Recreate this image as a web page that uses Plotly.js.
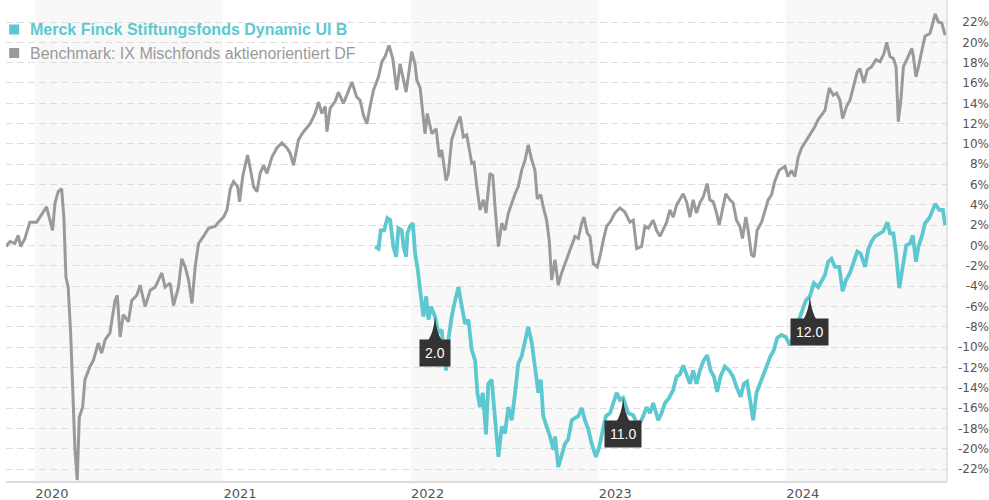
<!DOCTYPE html>
<html>
<head>
<meta charset="utf-8">
<script src="https://cdn.plot.ly/plotly-3.0.1.min.js"></script>
<style>html,body{margin:0;padding:0;background:#fff;}#chart{width:989px;height:500px;}</style>
</head>
<body>
<div id="chart"></div>
<script>
// ---- data (dates as decimal years, values in %) ----
const benchDates = [2019.846,2019.867,2019.893,2019.911,2019.924,2019.947,2019.973,2020.009,2020.027,2020.062,2020.080,2020.094,2020.107,2020.124,2020.142,2020.154,2020.165,2020.177,2020.190,2020.201,2020.213,2020.225,2020.236,2020.254,2020.266,2020.293,2020.311,2020.337,2020.355,2020.373,2020.399,2020.426,2020.438,2020.453,2020.470,2020.497,2020.515,2020.542,2020.559,2020.586,2020.613,2020.639,2020.675,2020.692,2020.719,2020.737,2020.763,2020.781,2020.799,2020.817,2020.835,2020.852,2020.870,2020.896,2020.923,2020.959,2020.976,2021.003,2021.021,2021.039,2021.056,2021.078,2021.088,2021.106,2021.131,2021.145,2021.163,2021.181,2021.198,2021.216,2021.234,2021.261,2021.287,2021.314,2021.341,2021.358,2021.376,2021.402,2021.429,2021.465,2021.491,2021.509,2021.527,2021.545,2021.554,2021.571,2021.598,2021.615,2021.642,2021.660,2021.687,2021.713,2021.731,2021.749,2021.767,2021.784,2021.802,2021.829,2021.847,2021.864,2021.885,2021.905,2021.926,2021.944,2021.962,2021.976,2021.997,2022.006,2022.024,2022.033,2022.051,2022.077,2022.089,2022.113,2022.136,2022.153,2022.166,2022.189,2022.201,2022.219,2022.246,2022.264,2022.281,2022.299,2022.326,2022.338,2022.353,2022.370,2022.388,2022.402,2022.423,2022.438,2022.450,2022.468,2022.486,2022.503,2022.521,2022.539,2022.557,2022.574,2022.592,2022.610,2022.627,2022.646,2022.663,2022.675,2022.694,2022.707,2022.725,2022.739,2022.752,2022.770,2022.787,2022.805,2022.823,2022.840,2022.859,2022.876,2022.894,2022.912,2022.924,2022.942,2022.956,2022.974,2022.995,2023.009,2023.027,2023.045,2023.063,2023.089,2023.116,2023.142,2023.169,2023.187,2023.205,2023.231,2023.249,2023.267,2023.293,2023.311,2023.329,2023.346,2023.365,2023.382,2023.400,2023.418,2023.435,2023.453,2023.471,2023.489,2023.506,2023.524,2023.542,2023.560,2023.581,2023.595,2023.613,2023.631,2023.645,2023.663,2023.680,2023.702,2023.719,2023.737,2023.755,2023.769,2023.787,2023.799,2023.817,2023.831,2023.847,2023.871,2023.888,2023.906,2023.924,2023.941,2023.964,2023.995,2024.012,2024.030,2024.048,2024.066,2024.084,2024.101,2024.119,2024.137,2024.154,2024.172,2024.190,2024.208,2024.231,2024.252,2024.270,2024.288,2024.302,2024.323,2024.341,2024.358,2024.380,2024.394,2024.415,2024.433,2024.456,2024.479,2024.501,2024.522,2024.536,2024.554,2024.572,2024.586,2024.598,2024.613,2024.625,2024.643,2024.670,2024.678,2024.692,2024.705,2024.723,2024.740,2024.767,2024.794,2024.811,2024.829,2024.847];
const benchValues = [-0.1,0.4,0.2,1.0,-0.1,0.7,2.3,2.3,2.8,3.8,2.5,1.5,4.2,5.3,5.6,2.8,-3.1,-4.1,-8.6,-15.2,-20.1,-23.1,-16.9,-15.9,-13.2,-11.9,-11.3,-9.6,-10.6,-9.3,-8.6,-5.4,-4.9,-9.0,-6.8,-7.5,-5.4,-4.9,-3.9,-6.0,-4.4,-4.1,-2.7,-4.1,-3.7,-5.9,-4.1,-1.3,-2.1,-3.4,-5.7,-2.1,0.2,0.9,1.7,1.9,2.3,2.8,3.5,5.6,6.3,5.8,4.3,6.9,8.9,7.6,5.8,5.3,7.1,7.9,7.1,8.7,9.6,10.1,9.6,9.1,7.9,10.4,11.2,12.0,13.0,14.1,13.0,13.7,11.2,13.5,14.2,15.1,14.0,14.8,16.1,14.6,14.3,12.8,12.0,13.7,15.3,16.6,18.1,18.6,19.7,18.4,15.3,17.9,16.3,15.1,17.9,19.1,17.8,16.3,15.5,11.0,13.0,11.0,11.5,8.7,9.4,6.4,7.1,10.4,11.9,12.7,10.7,10.9,8.1,8.2,5.8,3.5,4.5,3.2,7.1,6.9,3.8,-0.1,2.2,1.5,3.2,4.2,5.1,5.8,7.4,8.4,9.9,8.4,7.4,4.6,5.0,3.8,2.5,0.5,-3.4,-1.4,-3.9,-2.7,-1.8,-1.1,-0.1,0.9,0.7,2.2,2.8,1.2,0.9,-1.8,-2.1,-1.1,0.5,1.9,2.3,3.2,3.7,3.3,2.3,2.5,-0.3,-0.1,1.9,1.7,2.5,1.5,0.9,1.5,2.3,3.5,2.8,4.0,4.6,5.1,4.3,2.8,4.5,3.2,4.2,4.8,6.1,4.5,4.3,3.2,2.0,3.5,5.1,4.5,4.2,2.5,1.9,0.7,2.8,1.5,-0.9,-1.1,1.5,2.3,3.5,4.5,5.0,6.3,7.4,7.8,6.8,7.4,6.8,8.7,9.6,10.1,10.7,11.2,11.7,12.4,12.8,13.3,15.5,14.8,15.0,14.3,12.5,13.7,14.3,15.5,17.1,17.4,16.0,17.3,17.6,18.3,18.1,18.9,20.0,18.6,18.4,17.6,12.2,14.6,17.6,18.3,19.4,18.6,16.6,17.6,19.2,20.6,20.9,22.8,22.0,21.9,20.7];

const fundDates = [2021.811,2021.829,2021.841,2021.859,2021.876,2021.891,2021.908,2021.923,2021.935,2021.953,2021.962,2021.976,2021.983,2021.997,2022.012,2022.024,2022.036,2022.051,2022.068,2022.083,2022.095,2022.108,2022.130,2022.148,2022.166,2022.175,2022.189,2022.201,2022.219,2022.237,2022.255,2022.273,2022.290,2022.308,2022.326,2022.344,2022.356,2022.370,2022.385,2022.402,2022.414,2022.432,2022.450,2022.468,2022.486,2022.503,2022.521,2022.539,2022.557,2022.574,2022.592,2022.610,2022.627,2022.646,2022.663,2022.681,2022.694,2022.707,2022.725,2022.743,2022.761,2022.770,2022.787,2022.805,2022.823,2022.840,2022.859,2022.876,2022.894,2022.912,2022.929,2022.947,2022.965,2022.988,2023.006,2023.024,2023.041,2023.063,2023.080,2023.098,2023.116,2023.133,2023.160,2023.187,2023.213,2023.240,2023.258,2023.276,2023.293,2023.320,2023.338,2023.356,2023.378,2023.400,2023.418,2023.435,2023.453,2023.471,2023.489,2023.506,2023.524,2023.542,2023.560,2023.581,2023.599,2023.617,2023.634,2023.652,2023.675,2023.698,2023.719,2023.737,2023.759,2023.776,2023.794,2023.812,2023.826,2023.844,2023.862,2023.883,2023.900,2023.918,2023.936,2023.954,2023.977,2024.000,2024.021,2024.039,2024.060,2024.084,2024.107,2024.128,2024.149,2024.172,2024.190,2024.208,2024.225,2024.243,2024.261,2024.284,2024.302,2024.320,2024.341,2024.358,2024.380,2024.398,2024.421,2024.438,2024.456,2024.474,2024.497,2024.518,2024.540,2024.554,2024.572,2024.586,2024.603,2024.622,2024.640,2024.660,2024.675,2024.692,2024.705,2024.723,2024.740,2024.763,2024.794,2024.816,2024.835,2024.847];
const fundValues = [-0.1,-0.3,1.5,1.5,2.7,2.5,-0.1,-1.1,1.7,1.5,-0.1,-1.1,1.2,1.9,2.2,-0.8,-2.1,-4.1,-7.0,-5.0,-7.3,-6.0,-7.0,-8.6,-8.3,-10.6,-12.3,-9.3,-7.0,-5.4,-4.1,-6.0,-7.7,-7.3,-10.3,-11.3,-14.5,-15.9,-14.5,-18.6,-13.6,-13.2,-17.2,-20.8,-17.8,-18.5,-15.9,-17.2,-14.5,-11.6,-10.9,-9.6,-8.0,-9.6,-12.3,-14.5,-13.2,-16.8,-17.8,-18.8,-20.1,-18.8,-21.8,-20.5,-19.5,-19.1,-17.2,-17.0,-16.8,-16.0,-17.2,-18.1,-19.5,-20.8,-19.8,-18.2,-16.8,-16.5,-15.5,-14.5,-15.2,-15.0,-16.5,-16.7,-17.8,-16.8,-15.9,-16.5,-15.5,-17.2,-16.5,-15.5,-15.0,-14.2,-12.9,-12.7,-11.8,-12.6,-13.6,-12.3,-13.6,-12.3,-11.4,-10.8,-12.3,-12.9,-14.4,-12.9,-11.9,-12.3,-12.9,-13.9,-14.9,-13.6,-13.4,-15.5,-17.2,-14.5,-13.6,-12.6,-11.8,-10.9,-10.3,-9.1,-8.8,-9.0,-9.8,-9.0,-7.8,-6.5,-5.4,-5.0,-3.7,-4.1,-3.4,-2.9,-1.6,-1.3,-2.1,-2.1,-4.5,-3.4,-2.7,-1.8,-0.6,-0.8,-2.1,-0.4,0.4,0.9,1.2,1.4,2.3,1.2,1.2,-0.8,-4.2,-1.8,0.0,0.2,1.0,-1.6,-0.1,0.9,2.2,2.7,4.1,3.5,3.5,2.0];

// distribution markers
const markDates = [2022.130, 2023.133, 2024.128];
const markValues = [-7.0, -15.0, -5.0];
const markLabels = ['2.0', '11.0', '12.0'];

const seriesNames = ['Merck Finck Stiftungsfonds Dynamic UI B', 'Benchmark: IX Mischfonds aktienorientiert DF'];
const yearTicks = ['2020-01-01','2021-01-01','2022-01-01','2023-01-01','2024-01-01'];
const yearLabels = ['2020','2021','2022','2023','2024'];
const shadedYears = [2020, 2022, 2024];
const yTickValues = [-22,-20,-18,-16,-14,-12,-10,-8,-6,-4,-2,0,2,4,6,8,10,12,14,16,18,20,22];
const yTickLabels = ['-22%','-20%','-18%','-16%','-14%','-12%','-10%','-8%','-6%','-4%','-2%','0%','2%','4%','6%','8%','10%','12%','14%','16%','18%','20%','22%'];
const xRangeYears = [2019.846, 2024.857];
const yRange = [-23.18, 24.17];

// ---- helpers ----
function toDate(t) {
  const y = Math.floor(t);
  const s = Date.UTC(y, 0, 1), e = Date.UTC(y + 1, 0, 1);
  return new Date(s + (t - y) * (e - s)).toISOString().slice(0, 19).replace('T', ' ');
}

const TEAL = '#5ec8d0';
const GREY = '#9a9a9a';

const traces = [
  { x: benchDates.map(toDate), y: benchValues, type: 'scatter', mode: 'lines',
    line: { color: GREY, width: 3 }, name: seriesNames[1], hoverinfo: 'skip' },
  { x: fundDates.map(toDate), y: fundValues, type: 'scatter', mode: 'lines',
    line: { color: TEAL, width: 3.8 }, name: seriesNames[0], hoverinfo: 'skip' }
];

const shapes = [];
shadedYears.forEach(y => {
  shapes.push({ type: 'rect', xref: 'x', yref: 'paper', x0: y + '-01-01', x1: (y + 1) + '-01-01',
    y0: 0, y1: 1, fillcolor: '#f8f8f8', line: { width: 0 }, layer: 'below' });
});
// right border of plot area
shapes.push({ type: 'line', xref: 'x domain', yref: 'paper', x0: 1, x1: 1, y0: 0, y1: 1,
  line: { color: '#dcdcdc', width: 1.5 } });
// marker pointers
markDates.forEach((d, i) => {
  shapes.push({ type: 'path', xref: 'x', yref: 'y', xsizemode: 'pixel', ysizemode: 'pixel',
    xanchor: toDate(d), yanchor: markValues[i],
    path: 'M0,0 Q1.5,-16 7,-24 L-7,-24 Q-1.5,-16 0,0 Z',
    fillcolor: '#333333', line: { width: 0 } });
});
// legend squares
[[0.9387, TEAL], [0.8898, GREY]].forEach(([yy, c]) => {
  shapes.push({ type: 'rect', xref: 'paper', yref: 'paper', xsizemode: 'pixel', ysizemode: 'pixel',
    xanchor: 0.0032, yanchor: yy, x0: 0, x1: 10, y0: -5, y1: 5, fillcolor: c, line: { width: 0 } });
});

const annotations = [];
markDates.forEach((d, i) => {
  annotations.push({ x: toDate(d), y: markValues[i], xref: 'x', yref: 'y', text: markLabels[i],
    showarrow: true, arrowcolor: 'rgba(0,0,0,0)', arrowwidth: 0.1, ax: 0, ay: 36,
    bgcolor: '#333333', borderpad: 5, font: { family: 'Liberation Sans, Arial, sans-serif', size: 14, color: '#ffffff' } });
});
annotations.push({ xref: 'paper', yref: 'paper', x: 0.0223, y: 0.9387, xanchor: 'left', yanchor: 'middle',
  text: '<b>' + seriesNames[0] + '</b>', showarrow: false,
  font: { family: 'Liberation Sans, Arial, sans-serif', size: 16, color: TEAL } });
annotations.push({ xref: 'paper', yref: 'paper', x: 0.0223, y: 0.8898, xanchor: 'left', yanchor: 'middle',
  text: seriesNames[1], showarrow: false,
  font: { family: 'Liberation Sans, Arial, sans-serif', size: 16, color: GREY } });

const layout = {
  width: 989, height: 500,
  margin: { l: 6, r: 0, t: 0, b: 19, pad: 0 },
  paper_bgcolor: '#ffffff', plot_bgcolor: '#ffffff',
  showlegend: false,
  font: { family: 'DejaVu Sans, Verdana, sans-serif', color: '#555555' },
  xaxis: {
    type: 'date', domain: [0, 0.9573],
    range: [toDate(xRangeYears[0]), toDate(xRangeYears[1])],
    tickvals: yearTicks, ticktext: yearLabels,
    ticklabelshift: 17, ticks: '', showgrid: false, zeroline: false,
    showline: true, linecolor: '#dcdcdc', linewidth: 1.5,
    tickfont: { size: 13, color: '#555555' }
  },
  yaxis: {
    range: yRange, anchor: 'free', position: 1, side: 'left',
    tickvals: yTickValues, ticktext: yTickLabels,
    ticks: '', showline: false, zeroline: false,
    showgrid: true, gridcolor: '#dedede', gridwidth: 1, griddash: '7px,4px',
    tickfont: { size: 12, color: '#555555' }
  },
  shapes: shapes,
  annotations: annotations
};

Plotly.newPlot('chart', traces, layout, { staticPlot: true, displayModeBar: false });
</script>
</body>
</html>
